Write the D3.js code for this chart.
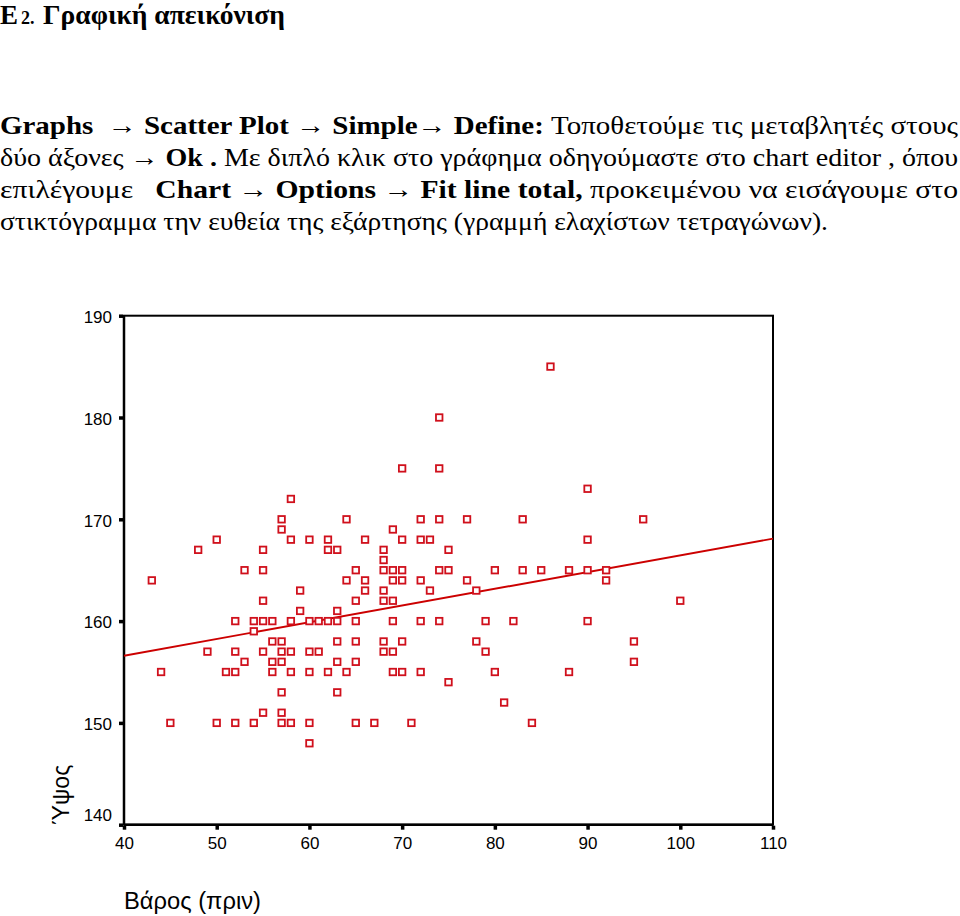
<!DOCTYPE html>
<html><head><meta charset="utf-8">
<script src="https://cdn.jsdelivr.net/npm/d3@7"></script>
<style>body{margin:0;background:#fff}svg{display:block}</style>
</head><body>
<script>
// ---- data ----
const weight = [48,50,55,57,57,58,58,60,62,62,63,64,
  86,74,70,74,90,72,74,77,83,96,69,66,70,72,73,90,68,75,68,
  53,55,65,43,64,59,55,65,59,63,
  52,54,55,56,58,60,61,62,63,65,
  54,
  56,57,63,65,
  49,52,55,57,58,60,61,
  53,56,57,63,65,
  44,51,52,56,58,60,62,64,
  57,63,
  55,57,
  45,50,52,54,57,58,60,65,
  60,
  68,69,70,74,75,80,83,85,88,90,92,
  66,69,70,72,77,92,
  66,68,73,78,
  68,69,100,
  69,72,74,79,82,90,
  68,70,78,95,
  68,69,79,
  95,
  69,70,72,80,88,
  75,
  81,
  67,71,84];
const height = [167,168,167,170,169,172,168,168,168,167,167,170,
  185,180,175,175,173,170,170,170,170,170,169,168,168,168,168,168,167,167,166,
  165,165,165,164,164,163,162,162,161,161,
  160,160,160,160,160,160,160,160,160,160,
  159,
  158,158,158,158,
  157,157,157,157,157,157,157,
  156,156,156,156,156,
  155,155,155,155,155,155,155,155,
  153,153,
  151,151,
  150,150,150,150,150,150,150,150,
  148,
  165,165,165,165,165,165,165,165,165,165,165,
  164,164,164,164,164,164,
  163,163,163,163,
  162,162,162,
  160,160,160,160,160,160,
  158,158,158,158,
  157,157,157,
  156,
  155,155,155,155,155,
  154,
  152,
  150,150,150];
const fitX = [40, 110];
const fitY = [156.6, 168.1];
const xTicks = [40,50,60,70,80,90,100,110];
const yTicks = [140,150,160,170,180,190];
const xTitle = "Βάρος (πριν)";
const yTitle = "Ύψος";

const W = 960, H = 916;
const svg = d3.select("body").append("svg").attr("width", W).attr("height", H);

// ---- header text ----
const serif = "'Liberation Serif','Times New Roman',serif";
svg.append("text").attr("x",0).attr("y",24).attr("font-family",serif).attr("font-weight","bold")
  .attr("font-size",27).text("Ε");
svg.append("text").attr("x",21).attr("y",24).attr("font-family",serif).attr("font-weight","bold")
  .attr("font-size",18).text("2.");
svg.append("text").attr("x",43).attr("y",24).attr("font-family",serif).attr("font-weight","bold")
  .attr("font-size",27).attr("textLength",242).attr("lengthAdjust","spacingAndGlyphs").text("Γραφική απεικόνιση");

const paragraph = [
  {y:134, w:958, parts:[["Graphs  → Scatter Plot → Simple→ Define:",1],[" Τοποθετούμε τις μεταβλητές στους",0]]},
  {y:166, w:958, parts:[["δύο άξονες ",0],["→ Ok .",1],[" Με διπλό κλικ στο γράφημα οδηγούμαστε στο chart editor , όπου",0]]},
  {y:198, w:958, parts:[["επιλέγουμε   ",0],["Chart → Options → Fit line total,",1],[" προκειμένου να εισάγουμε στο",0]]},
  {y:230, w:828, parts:[["στικτόγραμμα την ευθεία της εξάρτησης (γραμμή ελαχίστων τετραγώνων).",0]]}
];
paragraph.forEach(line => {
  const t = svg.append("text").attr("x",0).attr("y",line.y).attr("font-family",serif)
    .attr("font-size",25.5).attr("textLength",line.w).attr("lengthAdjust","spacingAndGlyphs")
    .attr("xml:space","preserve").style("white-space","pre");
  line.parts.forEach(p => t.append("tspan").attr("font-weight", p[1] ? "bold" : "normal").text(p[0]));
});

// ---- chart ----
const x = d3.scaleLinear().domain([40,110]).range([124,773]);
const y = d3.scaleLinear().domain([140,190]).range([824.7,315.7]);
const sans = "'Liberation Sans',Arial,sans-serif";

// frame
svg.append("rect").attr("x",x(40)).attr("y",y(190)).attr("width",x(110)-x(40)).attr("height",y(140)-y(190))
  .attr("fill","none").attr("stroke","#000").attr("stroke-width",2);
svg.append("line").attr("x1",x(40)).attr("x2",x(40)).attr("y1",y(190)).attr("y2",y(140)).attr("stroke","#000").attr("stroke-width",2.5);
svg.append("line").attr("x1",x(40)).attr("x2",x(110)).attr("y1",y(140)).attr("y2",y(140)).attr("stroke","#000").attr("stroke-width",2.5);

// y axis
const yAxis = svg.append("g").attr("transform",`translate(${x(40)-1},0)`)
  .call(d3.axisLeft(y).tickValues(yTicks).tickSize(4).tickPadding(7).tickFormat(d3.format("d")));
yAxis.select(".domain").remove();
yAxis.selectAll(".tick line").attr("stroke","#000").attr("stroke-width",3.5);
yAxis.selectAll(".tick text").attr("font-family",sans).attr("font-size",17).attr("fill","#000")
  .attr("dy", d => d === 140 ? "-0.25em" : "0.4em");

// x axis
const xAxis = svg.append("g").attr("transform",`translate(0,${y(140)+1})`)
  .call(d3.axisBottom(x).tickValues(xTicks).tickSize(4).tickPadding(7).tickFormat(d3.format("d")));
xAxis.select(".domain").remove();
xAxis.selectAll(".tick line").attr("stroke","#000").attr("stroke-width",3.5);
xAxis.selectAll(".tick text").attr("font-family",sans).attr("font-size",17).attr("fill","#000");

// titles
svg.append("text").attr("transform",`translate(69,${y(140)}) rotate(-90)`).attr("text-anchor","start")
  .attr("font-family",sans).attr("font-size",23).attr("fill","#000").text(yTitle);
svg.append("text").attr("x",124).attr("y",909).attr("font-family",sans).attr("font-size",23)
  .attr("textLength",137).attr("lengthAdjust","spacingAndGlyphs")
  .attr("fill","#000").text(xTitle);

// fit line
svg.append("line").attr("x1",x(fitX[0])).attr("y1",y(fitY[0])).attr("x2",x(fitX[1])).attr("y2",y(fitY[1]))
  .attr("stroke","#cc0000").attr("stroke-width",1.9);

// points
const pts = weight.map((w,i)=>({w, h:height[i]}));
const s = 6.5;
svg.append("g").selectAll("rect").data(pts).join("rect")
  .attr("x", d => x(d.w)-s/2).attr("y", d => y(d.h)-s/2).attr("width",s).attr("height",s)
  .attr("fill","#fff").attr("stroke","#d0101c").attr("stroke-width",1.8);
</script>
</body></html>
